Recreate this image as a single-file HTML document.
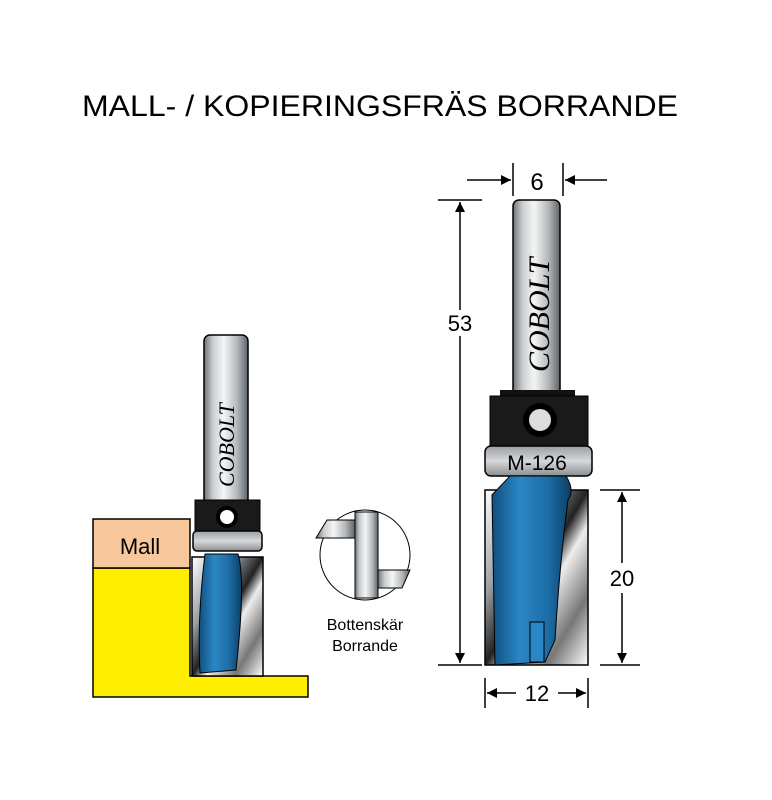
<!DOCTYPE html>
<html><head><meta charset="utf-8"><style>html,body{margin:0;padding:0;background:#fff}svg{display:block}</style></head>
<body>
<svg width="772" height="800" viewBox="0 0 772 800" xmlns="http://www.w3.org/2000/svg" font-family="Liberation Sans, sans-serif">
<defs>
<linearGradient id="steel" x1="0" x2="1" y1="0" y2="0">
<stop offset="0" stop-color="#6f7478"/><stop offset="0.2" stop-color="#c9ccce"/><stop offset="0.45" stop-color="#f4f5f6"/><stop offset="0.75" stop-color="#b5b9bc"/><stop offset="1" stop-color="#5e6367"/></linearGradient>
<linearGradient id="blue" x1="0" x2="1"><stop offset="0" stop-color="#0f4f80"/><stop offset="0.35" stop-color="#2b86c4"/><stop offset="0.7" stop-color="#1d6ea8"/><stop offset="1" stop-color="#0c3f66"/></linearGradient>
<linearGradient id="flute" x1="0" y1="0" x2="1" y2="1"><stop offset="0" stop-color="#fff"/><stop offset="0.3" stop-color="#9aa0a4"/><stop offset="0.5" stop-color="#222"/><stop offset="0.6" stop-color="#eee"/><stop offset="0.8" stop-color="#777"/><stop offset="1" stop-color="#fff"/></linearGradient>
<linearGradient id="ring" x1="0" x2="0" y1="0" y2="1"><stop offset="0" stop-color="#9a9ea1"/><stop offset="0.5" stop-color="#d6d8da"/><stop offset="1" stop-color="#8a8e91"/></linearGradient>
<marker id="ar" viewBox="0 0 10 10" refX="10" refY="5" markerWidth="12" markerHeight="10" markerUnits="userSpaceOnUse" orient="auto"><path d="M0,0 L10,5 L0,10z" fill="#000"/></marker>
</defs>

<text x="380" y="116" font-size="30" text-anchor="middle" textLength="596" lengthAdjust="spacingAndGlyphs">MALL- / KOPIERINGSFRÄS BORRANDE</text>

<!-- LEFT -->
<path d="M93,568 L190,568 L190,676 L308,676 L308,697 L93,697z" fill="#ffee00" stroke="#000" stroke-width="1.5"/>
<rect x="93" y="519" width="97" height="49" fill="#f8c79b" stroke="#000" stroke-width="1.5"/>
<text x="140" y="554" font-size="22" text-anchor="middle">Mall</text>

<rect x="204" y="335" width="44" height="170" rx="6" fill="url(#steel)" stroke="#000" stroke-width="1.5"/>
<text transform="translate(234,487) rotate(-90)" font-family="Liberation Serif, serif" font-style="italic" font-size="22">COBOLT</text>
<rect x="195" y="500" width="65" height="31" fill="#1a1a1a" stroke="#000"/>
<circle cx="227" cy="517" r="9" fill="#fff" stroke="#000" stroke-width="4"/>
<rect x="193" y="531" width="69" height="20" rx="4" fill="url(#ring)" stroke="#000" stroke-width="1.5"/>
<rect x="192" y="557" width="71" height="119" fill="url(#flute)" stroke="#000" stroke-width="1.5"/>
<path d="M205,554 L238,554 Q246,580 236,670 L200,673 Q197,620 205,554z" fill="url(#blue)" stroke="#000"/>

<!-- detail circle -->
<circle cx="365" cy="555" r="45" fill="#fff" stroke="#000"/>
<rect x="355" y="512" width="23" height="86" fill="url(#steel)" stroke="#000"/>
<path d="M327,520 L355,520 L355,538 L316,538z" fill="url(#steel)" stroke="#000"/>
<path d="M378,570 L410,570 L402,588 L378,588z" fill="url(#steel)" stroke="#000"/>
<text x="365" y="630" font-size="16" text-anchor="middle">Bottenskär</text>
<text x="365" y="651" font-size="16" text-anchor="middle">Borrande</text>

<!-- RIGHT -->
<rect x="513" y="200" width="47" height="200" rx="6" fill="url(#steel)" stroke="#000" stroke-width="1.5"/>
<text transform="translate(549,372) rotate(-90)" font-family="Liberation Serif, serif" font-style="italic" font-size="30">COBOLT</text>
<rect x="500" y="390" width="75" height="8" fill="#111"/>
<rect x="490" y="396" width="98" height="50" fill="#1a1a1a" stroke="#000"/>
<circle cx="540" cy="420" r="14" fill="#ddd" stroke="#000" stroke-width="6"/>
<rect x="485" y="446" width="107" height="30" rx="6" fill="url(#ring)" stroke="#000" stroke-width="1.5"/>
<text x="537" y="470" font-size="21" text-anchor="middle">M-126</text>
<rect x="485" y="490" width="103" height="175" fill="url(#flute)" stroke="#000" stroke-width="1.5"/>
<path d="M510,476 L566,476 Q575,490 568,500 Q560,560 555,640 L545,662 L495,665 L492,495z" fill="url(#blue)" stroke="#000"/>
<rect x="530" y="622" width="14" height="40" fill="#2b86c4" stroke="#000"/>

<!-- dimensions -->
<g stroke="#000" stroke-width="1.5" fill="none">
<line x1="513" y1="163" x2="513" y2="196"/><line x1="563" y1="163" x2="563" y2="196"/>
<line x1="467" y1="180" x2="511" y2="180" marker-end="url(#ar)"/>
<line x1="607" y1="180" x2="565" y2="180" marker-end="url(#ar)"/>
<line x1="438" y1="200" x2="482" y2="200"/><line x1="438" y1="665" x2="482" y2="665"/>
<line x1="460" y1="310" x2="460" y2="202" marker-end="url(#ar)"/>
<line x1="460" y1="336" x2="460" y2="663" marker-end="url(#ar)"/>
<line x1="600" y1="490" x2="640" y2="490"/><line x1="600" y1="665" x2="640" y2="665"/>
<line x1="622" y1="563" x2="622" y2="492" marker-end="url(#ar)"/>
<line x1="622" y1="593" x2="622" y2="663" marker-end="url(#ar)"/>
<line x1="485" y1="678" x2="485" y2="708"/><line x1="588" y1="678" x2="588" y2="708"/>
<line x1="516" y1="693" x2="487" y2="693" marker-end="url(#ar)"/>
<line x1="558" y1="693" x2="586" y2="693" marker-end="url(#ar)"/>
</g>
<text x="537" y="190" font-size="24" text-anchor="middle">6</text>
<text x="460" y="331" font-size="22" text-anchor="middle">53</text>
<text x="622" y="586" font-size="22" text-anchor="middle">20</text>
<text x="537" y="701" font-size="22" text-anchor="middle">12</text>
</svg>
</body></html>
